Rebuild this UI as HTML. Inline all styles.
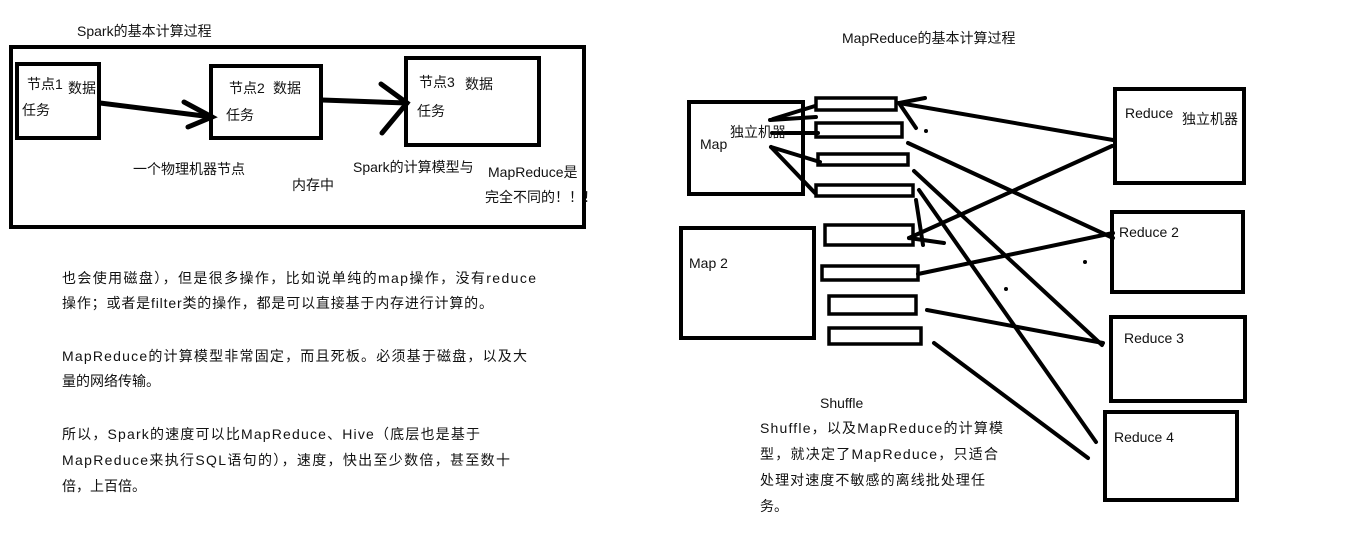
<!DOCTYPE html>
<html><head><meta charset="utf-8"><style>
html,body{margin:0;padding:0;background:#fff;}
svg{display:block}
text{font-family:"Liberation Sans","Noto Sans CJK SC",sans-serif;fill:#111;font-size:14px}
</style></head><body>
<svg width="1360" height="543" viewBox="0 0 1360 543" xmlns="http://www.w3.org/2000/svg">
<g fill="none" stroke="#000" stroke-width="4" stroke-linecap="round">
<!-- left -->
<rect x="11" y="47" width="573" height="180"/>
<rect x="17" y="64" width="82" height="74"/>
<rect x="211" y="66" width="110" height="72"/>
<rect x="406" y="58" width="133" height="87"/>
<line x1="100" y1="103" x2="212" y2="117" stroke-width="5"/>
<polyline points="184,102 212,117 188,127" stroke-width="5"/>
<line x1="322" y1="100" x2="407" y2="103" stroke-width="5"/>
<polyline points="381,84 407,103 382,133" stroke-width="5"/>
<!-- right boxes -->
<rect x="689" y="102" width="114" height="92"/>
<rect x="681" y="228" width="133" height="110"/>
<rect x="1115" y="89" width="129" height="94"/>
<rect x="1112" y="212" width="131" height="80"/>
<rect x="1111" y="317" width="134" height="84"/>
<rect x="1105" y="412" width="132" height="88"/>
<g stroke-width="3.5">
<rect x="816" y="98" width="80" height="12"/>
<rect x="816" y="123" width="86" height="14"/>
<rect x="818" y="154" width="90" height="11"/>
<rect x="816" y="185" width="97" height="11"/>
<rect x="825" y="225" width="88" height="20"/>
<rect x="822" y="266" width="96" height="14"/>
<rect x="829" y="296" width="87" height="18"/>
<rect x="829" y="328" width="92" height="16"/>
</g>
<!-- connectors -->
<line x1="1113" y1="140" x2="899" y2="103"/>
<polyline points="925,98 899,103 916,128"/>
<line x1="1112" y1="146" x2="909" y2="238"/>
<line x1="909" y1="238" x2="944" y2="243"/>
<line x1="770" y1="120" x2="816" y2="117"/>
<line x1="773" y1="119" x2="815" y2="106"/>
<line x1="772" y1="133" x2="818" y2="133"/>
<line x1="771" y1="147" x2="820" y2="162"/>
<line x1="771" y1="147" x2="815" y2="193"/>
<line x1="916" y1="200" x2="923" y2="245"/>
<line x1="908" y1="143" x2="1113" y2="238"/>
<line x1="914" y1="171" x2="1102" y2="345"/>
<line x1="919" y1="190" x2="1096" y2="442"/>
<line x1="918" y1="274" x2="1113" y2="233"/>
<line x1="927" y1="310" x2="1103" y2="343"/>
<line x1="934" y1="343" x2="1088" y2="458"/>
</g>
<g fill="#000"><circle cx="926" cy="131" r="2"/><circle cx="1085" cy="262" r="2"/><circle cx="1006" cy="289" r="2"/></g>

<text x="77" y="36">Spark的基本计算过程</text>
<text x="27" y="89">节点1</text><text x="68" y="93">数据</text><text x="22" y="115">任务</text>
<text x="229" y="93">节点2</text><text x="273" y="93">数据</text><text x="226" y="120">任务</text>
<text x="419" y="87">节点3</text><text x="465" y="89">数据</text><text x="417" y="116">任务</text>
<text x="133" y="174">一个物理机器节点</text>
<text x="292" y="190">内存中</text>
<text x="353" y="172">Spark的计算模型与</text><text x="488" y="177">MapReduce是</text>
<text x="485" y="202">完全不同的！！！</text>

<text x="62" y="283" textLength="474">也会使用磁盘），但是很多操作，比如说单纯的map操作，没有reduce</text>
<text x="62" y="308" textLength="431">操作；或者是filter类的操作，都是可以直接基于内存进行计算的。</text>
<text x="62" y="361" textLength="465">MapReduce的计算模型非常固定，而且死板。必须基于磁盘，以及大</text>
<text x="62" y="386">量的网络传输。</text>
<text x="62" y="439" textLength="418">所以，Spark的速度可以比MapReduce、Hive（底层也是基于</text>
<text x="62" y="465" textLength="448">MapReduce来执行SQL语句的），速度，快出至少数倍，甚至数十</text>
<text x="62" y="491">倍，上百倍。</text>

<text x="842" y="43">MapReduce的基本计算过程</text>
<text x="700" y="149">Map</text><text x="730" y="137">独立机器</text>
<text x="689" y="268">Map 2</text>
<text x="1125" y="118">Reduce</text><text x="1182" y="124">独立机器</text>
<text x="1119" y="237">Reduce 2</text>
<text x="1124" y="343">Reduce 3</text>
<text x="1114" y="442">Reduce 4</text>
<text x="820" y="408">Shuffle</text>
<text x="760" y="433" textLength="243">Shuffle，以及MapReduce的计算模</text>
<text x="760" y="459" textLength="238">型，就决定了MapReduce，只适合</text>
<text x="760" y="485" textLength="225">处理对速度不敏感的离线批处理任</text>
<text x="760" y="511">务。</text>
</svg>
</body></html>
